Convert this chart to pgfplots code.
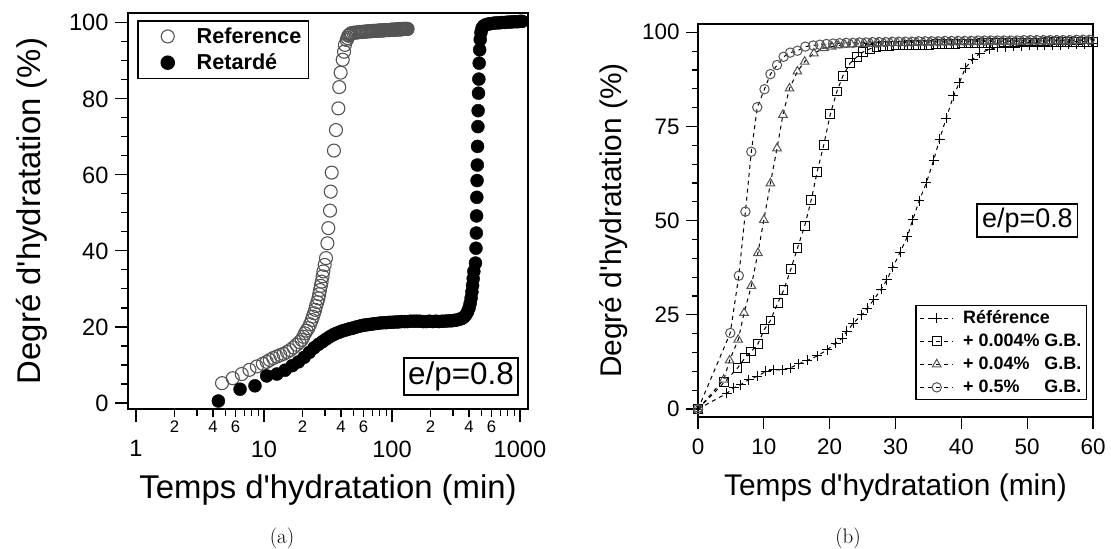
\documentclass[border=0pt]{standalone}
\usepackage{fontspec}
\setmainfont{Liberation Sans}[Ligatures=TeXOff]
\newfontfamily\lmr{Latin Modern Roman}
\usepackage{pgfplots}
\pgfplotsset{compat=1.18}
\definecolor{cgray}{gray}{0.33}
\begin{document}
\begin{tikzpicture}[x=1bp,y=1bp]
\useasboundingbox (0,0) rectangle (1111,549);
% ---------------- panel (a) ----------------
\begin{axis}[
  at={(128bp,140bp)}, anchor=south west,
  scale only axis, width=400bp, height=396bp,
  xmode=log, xmin=0.866, xmax=1155, ymin=-1.6, ymax=102.6,
  axis line style={line width=1.5bp},
  every tick/.style={black, line width=1.2bp},
  tick align=outside, xtick pos=bottom, ytick pos=left,
  major tick length=13bp, minor tick length=7bp,
  xtick={1,10,100,1000}, xticklabels={1,10,100,1000},
  minor xtick={3,5,7,8,9,30,50,70,80,90,300,500,700,800,900},
  extra x ticks={2,4,6,20,40,60,200,400,600},
  extra x tick labels={2,4,6,2,4,6,2,4,6},
  extra x tick style={major tick length=8bp, xticklabel shift=0bp,
     xticklabel style={font=\fontsize{16.8}{18}\selectfont}},
  xticklabel shift=15bp, yticklabel shift=3bp,
  ytick={0,20,40,60,80,100}, minor y tick num=3,
  /pgf/number format/assume math mode=true,
  ticklabel style={font=\fontsize{23.7}{26}\selectfont},
  xlabel={Temps d'hydratation (min)},
  ylabel={Degré d'hydratation (\%)},
  x label style={at={(axis description cs:0.5,-0.2045)}, anchor=center, font=\fontsize{33}{38}\selectfont},
  y label style={at={(axis description cs:-0.24,0.5)}, anchor=center, font=\fontsize{33}{38}\selectfont},
  legend style={at={(axis description cs:0.0225,0.982)}, anchor=north west,
     draw=black, line width=1.5bp, font=\bfseries\fontsize{21.7}{25}\selectfont,
     inner xsep=5bp, inner ysep=5bp, row sep=5bp},
  legend cell align=left,
  legend image code/.code={\path[draw=none,fill=none] (0bp,0bp) -- (52bp,0bp); \draw[#1] plot coordinates {(25bp,0bp)};},
]
\addplot[only marks, mark=o, mark size=6.5bp, draw=cgray, mark options={line width=1.1bp}] coordinates {
(4.7,5.2)(5.7,6.5)(6.7,7.6)(7.7,8.7)(8.8,9.6)(9.8,10.3)(10.5,10.8)(11.1,11.3)(11.8,11.8)
(12.6,12.2)(13.4,12.6)(14.2,12.9)(15.1,13.4)(16.0,13.9)(17.0,14.6)(18.0,15.3)(18.9,16.0)
(19.7,16.6)(20.3,17.4)(20.9,18.3)(21.5,19.0)(22.2,19.7)(22.9,20.7)(23.6,21.8)(24.1,22.7)
(24.6,23.6)(25.1,24.5)(25.5,25.5)(26.1,26.5)(26.6,27.5)(27.0,28.6)(27.4,29.7)(27.8,30.8)
(28.2,31.9)(28.7,33.3)(29.1,34.6)(29.8,36.3)(30.5,38.1)(31.3,42.0)(31.8,46.0)(32.8,50.6)
(33.2,55.6)(33.8,60.6)(35.2,66.4)(36.5,71.8)(38.1,77.5)(38.7,83.1)(39.7,86.9)(41.2,90.3)
(42.2,92.4)(42.9,94.2)(44.3,95.5)(45.0,96.0)(45.6,96.6)(46.3,96.8)(47.0,97.0)(47.7,97.2)
(48.4,97.3)(50,97.4)(51.5,97.4)(53,97.5)(54.5,97.5)(56,97.6)(57.5,97.6)(59,97.6)(60.5,97.7)
(62,97.7)(63.5,97.7)(65,97.8)(66.5,97.8)(68,97.8)(69.5,97.8)(71,97.9)(72.5,97.9)(74,97.9)
(75.5,97.9)(77,97.9)(78.5,98.0)(80,98.0)(81.5,98.0)(83,98.0)(84.5,98.0)(86,98.0)(87.5,98.1)
(89,98.1)(90.5,98.1)(92,98.1)(93.5,98.1)(95,98.1)(96.5,98.1)(98,98.2)(99.5,98.2)(101,98.2)
(102.5,98.2)(104,98.2)(105.5,98.2)(107,98.2)(108.5,98.3)(110,98.3)(111.5,98.3)(113,98.3)
(114.5,98.3)(116,98.3)(117.5,98.3)(119,98.3)(120.5,98.4)(122,98.4)(123.5,98.4)(125,98.4)
(126.5,98.4)(128,98.4)(129.5,98.4)(131,98.4)(132.5,98.4)
};
\addlegendentry{Reference}
\addplot[only marks, mark=*, mark size=6.5bp, black] coordinates {
(4.4,0.5)(6.5,3.6)(8.5,4.5)(10.5,7.1)(12.6,7.6)(14.6,8.6)(16.6,9.8)(18.6,10.8)(20.6,12.0)
(22.6,13.3)(24.6,14.5)(26.6,15.4)(28.6,16.1)(30.6,16.8)(32.6,17.4)(34.6,17.9)(36.6,18.3)
(38.6,18.6)(40.6,18.9)(42.6,19.1)(44.6,19.3)(46.6,19.5)(48.6,19.6)(50.6,19.8)(53,20.0)
(56,20.2)(59,20.4)(62,20.5)(65,20.6)(68,20.7)(72,20.8)(76,20.9)(80,21.0)(85,21.1)(90,21.1)
(95,21.2)(100,21.2)(106,21.3)(112,21.3)(118,21.4)(125,21.4)(132,21.4)(140,21.5)(148,21.5)
(156,21.5)(165,21.5)(175,21.4)(185,21.4)(196,21.5)(208,21.4)(220,21.5)(233,21.4)(246,21.5)
(260,21.5)(275,21.6)(290,21.6)(305,21.7)(320,21.8)(335,22.0)(350,22.2)(365,22.6)(378,23.2)
(390,24.0)(400,25.0)(408,26.2)(415,27.6)(421,29.2)(426,30.9)(431,32.7)(436,34.6)
(449,36.8)(453,40.7)(456,44.7)(458,49.2)(460,54.1)(462,58.5)(464,62.6)(466,67.5)(469,72.7)
(471,76.9)(474,81.5)(477,85.2)(480,89.4)(484,92.9)(489,95.6)(495,97.4)(505,98.6)(520,99.2)
(540,99.5)(565,99.7)(590,99.8)(620,99.9)(650,100.0)(685,100.0)(720,100.1)(760,100.1)
(800,100.2)(840,100.2)(880,100.3)(920,100.3)(960,100.3)(1000,100.4)(1040,100.4)
};
\addlegendentry{Retardé}
\node[draw, line width=1.5bp, font=\fontsize{31.5}{36}\selectfont, inner xsep=4bp, inner ysep=4bp, fill=white]
  at (rel axis cs:0.8325,0.082) {e/p=0.8};
\end{axis}
% ---------------- panel (b) ----------------
\begin{axis}[
  at={(698bp,132bp)}, anchor=south west,
  scale only axis, width=395bp, height=393bp,
  xmin=0, xmax=60, ymin=-2.1, ymax=102.2,
  axis line style={line width=1.5bp},
  every tick/.style={black, line width=1.2bp},
  tick align=outside, xtick pos=bottom, ytick pos=left,
  major tick length=12bp, minor tick length=6bp,
  xtick={0,10,...,60}, ytick={0,25,50,75,100}, minor y tick num=4,
  xticklabel shift=6bp, yticklabel shift=3bp,
  /pgf/number format/assume math mode=true,
  ticklabel style={font=\fontsize{22.5}{25}\selectfont},
  xlabel={Temps d'hydratation (min)},
  ylabel={Degré d'hydratation (\%)},
  x label style={at={(axis description cs:0.5,-0.1807)}, anchor=center, font=\fontsize{30}{35}\selectfont},
  y label style={at={(axis description cs:-0.2127,0.5)}, anchor=center, font=\fontsize{30}{35}\selectfont},
  legend style={at={(axis description cs:0.985,0.043)}, anchor=south east,
     draw=black, line width=1.5bp, font=\bfseries\fontsize{18}{21}\selectfont,
     inner xsep=3bp, inner ysep=3bp, row sep=5bp},
  legend cell align=left,
  legend image code/.code={\path[draw=none,fill=none] (0bp,0bp) -- (42bp,0bp); \draw[#1] (1bp,0bp) -- (34bp,0bp); \draw[#1,solid] plot coordinates {(17.5bp,0bp)};},
  every axis plot/.append style={black, line width=1bp, dash pattern=on 4bp off 4bp},
]
\addplot[mark=+, mark size=5bp, mark options={solid, black, line width=1bp}] coordinates {
(0,0)(4.4,4.2)(5.4,5.6)(6.5,6.5)(7.7,7.8)(9.0,8.7)(10.3,10.0)(11.5,10.4)(12.8,10.4)(14.0,10.9)
(15.3,12.0)(16.6,12.9)(18.1,14.1)(19.6,15.7)(20.9,17.5)(21.9,18.8)(22.6,20.6)(23.6,22.8)
(24.9,25.0)(25.7,26.8)(26.7,29.0)(27.8,31.8)(28.7,34.3)(29.6,37.7)(30.7,41.6)(31.8,45.8)
(32.6,50.2)(33.6,55.3)(34.7,60.1)(35.8,66.1)(36.7,71.6)(37.7,77.2)(38.8,83.1)(39.7,86.6)
(40.6,90.5)(41.7,92.8)(42.8,94.4)(44.3,95.5)(45.5,96.0)(46.7,96.2)(47.9,96.3)(49.1,96.4)
(50.3,96.5)(51.5,96.5)(52.7,96.6)(53.9,96.7)(55.1,96.7)(56.3,96.8)(57.5,96.8)(58.7,96.9)(59.9,96.9)
};
\addlegendentry{Référence}
\addplot[mark=square, mark size=4.4bp, mark options={solid, black, line width=1bp}] coordinates {
(0,0)(4.0,7.1)(6.0,10.9)(7.1,13.5)(8.1,15.3)(9.1,17.3)(10.1,21.2)(11.0,23.5)(12.1,28.1)
(13.0,31.5)(14.1,37.1)(15.1,42.7)(16.2,48.6)(17.2,55.5)(18.1,63.0)(19.1,70.1)(20.1,78.3)
(21.1,84.3)(22.0,88.4)(23.1,91.8)(24.1,93.4)(25.1,94.8)(26.1,95.6)(27.1,96.1)(28.1,96.3)
(29.1,96.4)(30.1,96.5)(31.1,96.5)(32.1,96.6)(33.1,96.6)(34.1,96.7)(35.1,96.7)(36.1,96.8)
(37.1,96.8)(38.1,96.9)(39.1,96.9)(40.1,97.0)(41.1,97.0)(42.1,97.0)(43.1,97.1)(44.1,97.1)
(45.1,97.1)(46.1,97.2)(47.1,97.2)(48.1,97.2)(49.1,97.3)(50.1,97.3)(51.1,97.3)(52.1,97.3)
(53.1,97.4)(54.1,97.4)(55.1,97.4)(56.1,97.4)(57.1,97.5)(58.1,97.5)(59.1,97.5)(60,97.5)
};
\addlegendentry{+ 0.004\% G.B.}
\addplot[mark=triangle, mark size=5bp, mark options={solid, cgray, line width=1bp}] coordinates {
(0,0)(3.9,7.8)(4.8,12.9)(6.1,18.4)(7.0,25.5)(8.1,32.7)(9.1,41.4)(10.0,50.2)(11.0,59.9)
(12.0,69.2)(12.9,78.1)(13.9,85.1)(15.1,89.6)(16.2,92.2)(17.6,94.4)(19.1,95.8)(20.3,96.2)
(21.3,96.5)(22.3,96.7)(23.3,96.8)(24.3,96.9)(25.3,97.0)(26.3,97.0)(27.3,97.1)(28.3,97.1)
(29.3,97.2)(30.3,97.2)(31.3,97.2)(32.3,97.3)(33.3,97.3)(34.3,97.3)(35.3,97.4)(36.3,97.4)
(37.3,97.4)(38.3,97.4)(39.3,97.5)(40.3,97.5)(41.3,97.5)(42.3,97.5)(43.3,97.5)(44.3,97.6)
(45.3,97.6)(46.3,97.6)(47.3,97.6)(48.3,97.6)(49.3,97.6)(50.3,97.7)(51.3,97.7)(52.3,97.7)
(53.3,97.7)(54.3,97.7)(55.3,97.7)(56.3,97.7)(57.3,97.8)(58.3,97.8)(59.3,97.8)
};
\addlegendentry{+ 0.04\%\phantom{0} G.B.}
\addplot[mark=o, mark size=4.7bp, mark options={solid, cgray, line width=1bp}] coordinates {
(0,0)(4.9,20.2)(6.2,35.4)(7.2,52.4)(8.1,68.3)(9.0,80.1)(10.1,84.9)(11.0,88.9)(12.0,91.3)
(13.0,93.5)(14.0,94.6)(15.1,95.1)(16.3,96.2)(17.5,96.5)(18.5,96.7)(19.5,96.9)(20.5,97.0)
(21.5,97.1)(22.5,97.2)(23.5,97.2)(24.5,97.3)(25.5,97.3)(26.5,97.4)(27.5,97.4)(28.5,97.4)
(29.5,97.5)(30.5,97.5)(31.5,97.5)(32.5,97.5)(33.5,97.6)(34.5,97.6)(35.5,97.6)(36.5,97.6)
(37.5,97.7)(38.5,97.7)(39.5,97.7)(40.5,97.7)(41.5,97.7)(42.5,97.8)(43.5,97.8)(44.5,97.8)
(45.5,97.8)(46.5,97.8)(47.5,97.8)(48.5,97.8)(49.5,97.9)(50.5,97.9)(51.5,97.9)(52.5,97.9)
(53.5,97.9)(54.5,97.9)(55.5,97.9)(56.5,97.9)(57.5,98.0)(58.5,98.0)(59.5,98.0)
};
\addlegendentry{+ 0.5\%\phantom{00} G.B.}
\node[draw, line width=1.5bp, font=\fontsize{27}{32}\selectfont, inner xsep=5bp, inner ysep=4bp, fill=white]
  at (rel axis cs:0.834,0.5) {e/p=0.8};
\end{axis}
\node[font=\lmr\fontsize{21}{25}\selectfont] at (282,11) {(a)};
\node[font=\lmr\fontsize{21}{25}\selectfont] at (848,11) {(b)};
\end{tikzpicture}
\end{document}
